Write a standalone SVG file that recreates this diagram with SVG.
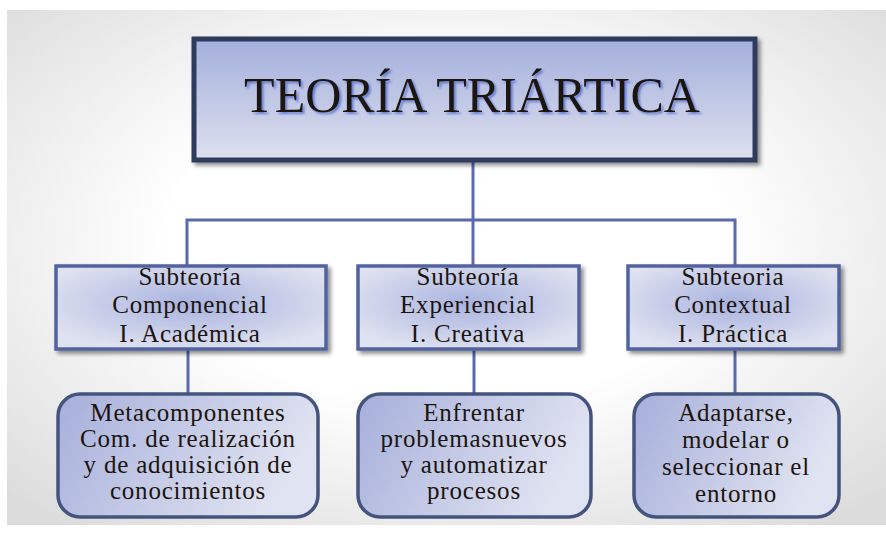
<svg xmlns="http://www.w3.org/2000/svg" width="886" height="534" viewBox="0 0 886 534">
<defs>
<radialGradient id="bg" cx="0.5" cy="0.45" r="0.7">
<stop offset="0.45" stop-color="#ffffff"/>
<stop offset="1" stop-color="#dcdcdc"/>
</radialGradient>
<linearGradient id="gMain" x1="0" y1="0" x2="0" y2="1">
<stop offset="0" stop-color="#a4afdc"/>
<stop offset="1" stop-color="#dde0ef"/>
</linearGradient>
<radialGradient id="gSub" cx="0.5" cy="0.45" r="0.6">
<stop offset="0" stop-color="#a9b3e0"/>
<stop offset="1" stop-color="#dfe2f0"/>
</radialGradient>
<linearGradient id="gLeaf" x1="0" y1="0" x2="1" y2="0.3">
<stop offset="0" stop-color="#a6afdb"/>
<stop offset="1" stop-color="#e0e3f1"/>
</linearGradient>
<filter id="sh" x="-10%" y="-10%" width="125%" height="130%">
<feGaussianBlur in="SourceAlpha" stdDeviation="2"/>
<feOffset dx="3" dy="3" result="b"/>
<feComponentTransfer><feFuncA type="linear" slope="0.45"/></feComponentTransfer>
<feMerge><feMergeNode/><feMergeNode in="SourceGraphic"/></feMerge>
</filter>
<filter id="tsh" x="-5%" y="-20%" width="110%" height="140%">
<feOffset in="SourceAlpha" dx="2" dy="2" result="o"/>
<feGaussianBlur in="o" stdDeviation="0.8" result="ob"/>
<feFlood flood-color="#4a64c8" flood-opacity="0.75"/>
<feComposite in2="ob" operator="in"/>
<feMerge><feMergeNode/><feMergeNode in="SourceGraphic"/></feMerge>
</filter>
</defs>
<style>
.conn{stroke:#5a6aae;stroke-width:3;fill:none}
.main{fill:url(#gMain);stroke:#2d3a5c;stroke-width:5}
.sub{fill:url(#gSub);stroke:#5363a0;stroke-width:3.5}
.leaf{fill:url(#gLeaf);stroke:#44547f;stroke-width:3.5}
.t{font-family:"Liberation Serif","Times New Roman",serif;fill:#1c140e;text-anchor:middle}
.s{font-size:25px;letter-spacing:0.8px}
.ttl{font-size:50px}
</style>
<rect x="7" y="10" width="879" height="515" fill="url(#bg)"/>
<g id="connectors">
<line class="conn" x1="473" y1="162" x2="473" y2="265"/>
<polyline class="conn" points="187,265 187,220 735,220 735,265"/>
<line class="conn" x1="188" y1="350" x2="188" y2="393"/>
<line class="conn" x1="474" y1="350" x2="474" y2="393"/>
<line class="conn" x1="735" y1="350" x2="735" y2="393"/>
</g>
<g id="main">
<rect class="main" x="194" y="39" width="561" height="121" filter="url(#sh)"/>
<text class="t ttl" x="472" y="112" filter="url(#tsh)">TEORÍA TRIÁRTICA</text>
</g>
<g id="sub1">
<rect class="sub" x="56" y="266" width="270" height="83" filter="url(#sh)"/>
<text class="t s" x="190" y="285">Subteoría</text>
<text class="t s" x="190" y="313">Componencial</text>
<text class="t s" x="190" y="342">I. Académica</text>
</g>
<g id="sub2">
<rect class="sub" x="358" y="266" width="221" height="83" filter="url(#sh)"/>
<text class="t s" x="468" y="285">Subteoría</text>
<text class="t s" x="468" y="313">Experiencial</text>
<text class="t s" x="468" y="342">I. Creativa</text>
</g>
<g id="sub3">
<rect class="sub" x="628" y="266" width="211" height="83" filter="url(#sh)"/>
<text class="t s" x="733" y="285">Subteoria</text>
<text class="t s" x="733" y="313">Contextual</text>
<text class="t s" x="733" y="342">I. Práctica</text>
</g>
<g id="leaf1">
<rect class="leaf" x="58" y="394" width="260" height="123" rx="22"/>
<text class="t s" x="188" y="421">Metacomponentes</text>
<text class="t s" x="188" y="447">Com. de realización</text>
<text class="t s" x="188" y="473">y de adquisición de</text>
<text class="t s" x="188" y="499">conocimientos</text>
</g>
<g id="leaf2">
<rect class="leaf" x="358" y="394" width="233" height="123" rx="22"/>
<text class="t s" x="474" y="421">Enfrentar</text>
<text class="t s" x="474" y="447">problemasnuevos</text>
<text class="t s" x="474" y="473">y automatizar</text>
<text class="t s" x="474" y="499">procesos</text>
</g>
<g id="leaf3">
<rect class="leaf" x="634" y="394" width="205" height="123" rx="22"/>
<text class="t s" x="736" y="421">Adaptarse,</text>
<text class="t s" x="736" y="448">modelar o</text>
<text class="t s" x="736" y="475">seleccionar el</text>
<text class="t s" x="736" y="502">entorno</text>
</g>
</svg>
